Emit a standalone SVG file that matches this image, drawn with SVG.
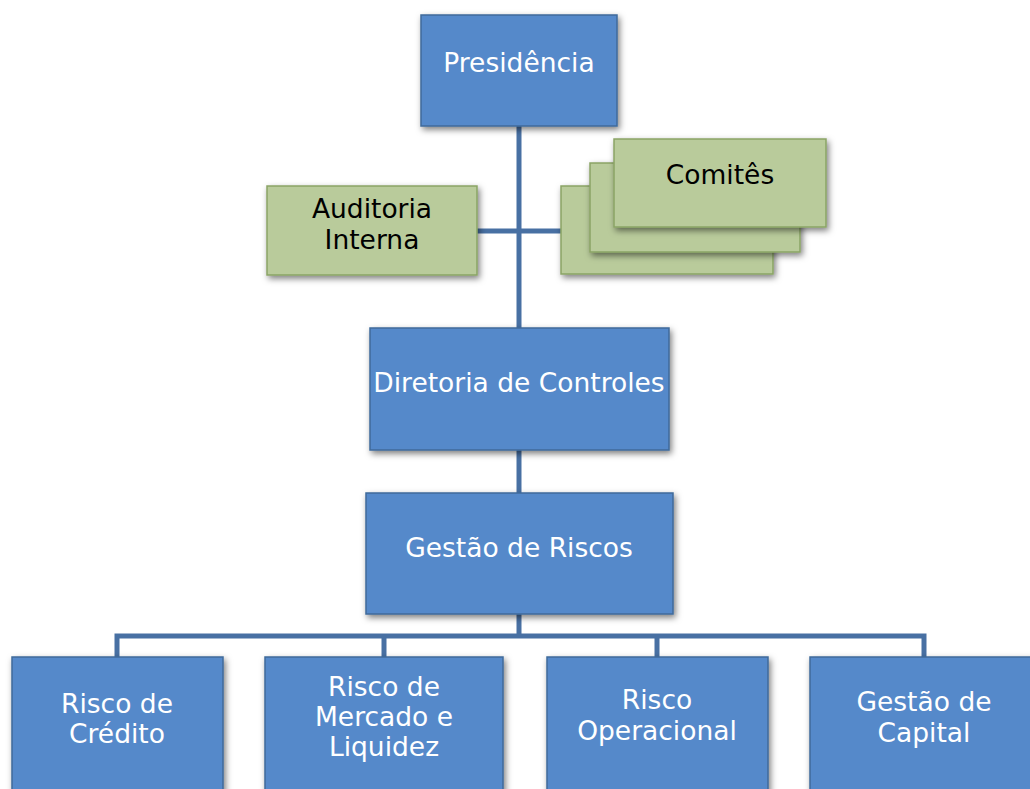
<svg xmlns="http://www.w3.org/2000/svg" width="1030" height="789" viewBox="0 0 1030 789">
<defs>
<filter id="sh" x="-10%" y="-10%" width="125%" height="130%">
<feDropShadow dx="2" dy="3" stdDeviation="3" flood-color="#000" flood-opacity="0.5"/>
</filter>
</defs>
<style>
.b{fill:#5589CA;stroke:#3F6A9A;stroke-width:1.5;filter:url(#sh)}
.g{fill:#B9CB9B;stroke:#8AA465;stroke-width:1.5;filter:url(#sh)}
.c{stroke:#4870A3;stroke-width:5;fill:none}
text{font-family:"DejaVu Sans","Noto Sans",sans-serif;font-size:26.5px;text-anchor:middle}
.w{fill:#FFFFFF}
.k{fill:#000000}
</style>
<rect width="1030" height="789" fill="#FFFFFF"/>
<g id="connectors">
<path class="c" d="M519,126 V328"/>
<path class="c" d="M477,231 H561"/>
<path class="c" d="M519,450 V493"/>
<path class="c" d="M519,614 V636 M117,657 V636 H924 V657 M384,636 V657 M657,636 V657"/>
</g>
<g id="presidencia">
<rect class="b" x="421" y="15" width="196" height="111"/>
<text class="w" x="519" y="72">Presidência</text>
</g>
<g id="auditoria">
<rect class="g" x="267" y="186" width="210" height="89"/>
<text class="k" x="372" y="218">Auditoria</text>
<text class="k" x="372" y="249">Interna</text>
</g>
<g id="comites">
<rect class="g" x="561" y="186" width="212" height="88"/>
<rect class="g" x="590" y="163" width="210" height="89"/>
<rect class="g" x="614" y="139" width="212" height="88"/>
<text class="k" x="720" y="184">Comitês</text>
</g>
<g id="diretoria">
<rect class="b" x="370" y="328" width="299" height="122"/>
<text class="w" x="519" y="392">Diretoria de Controles</text>
</g>
<g id="gestao-riscos">
<rect class="b" x="366" y="493" width="307" height="121"/>
<text class="w" x="519" y="557">Gestão de Riscos</text>
</g>
<g id="risco-credito">
<rect class="b" x="12" y="657" width="211" height="140"/>
<text class="w" x="117" y="713">Risco de</text>
<text class="w" x="117" y="743">Crédito</text>
</g>
<g id="risco-mercado">
<rect class="b" x="265" y="657" width="238" height="140"/>
<text class="w" x="384" y="696">Risco de</text>
<text class="w" x="384" y="726">Mercado e</text>
<text class="w" x="384" y="756">Liquidez</text>
</g>
<g id="risco-operacional">
<rect class="b" x="547" y="657" width="221" height="140"/>
<text class="w" x="657" y="709">Risco</text>
<text class="w" x="657" y="740">Operacional</text>
</g>
<g id="gestao-capital">
<rect class="b" x="810" y="657" width="230" height="140"/>
<text class="w" x="924" y="711">Gestão de</text>
<text class="w" x="924" y="742">Capital</text>
</g>
</svg>
